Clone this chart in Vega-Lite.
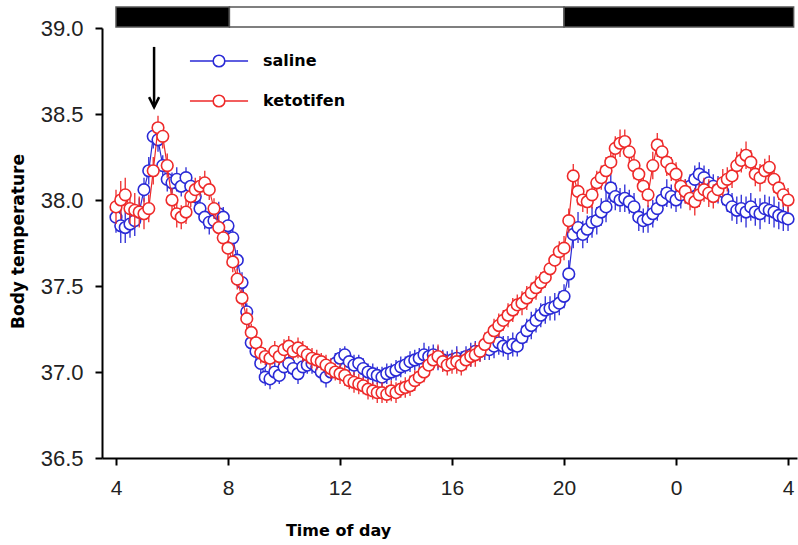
{
"$schema": "https://vega.github.io/schema/vega-lite/v6.json",
"width": 695, "height": 430,
"autosize": {"type": "none"},
"padding": {"left": 102, "top": 28, "right": 1, "bottom": 87},
"background": "white",
"config": {"view": {"stroke": null}},
"datasets": {
"saline": [
{"t":4,"v":37.90,"e":0.09},{"t":4.17,"v":37.85,"e":0.10},{"t":4.33,"v":37.84,"e":0.09},{"t":4.5,"v":37.86,"e":0.08},{"t":4.67,"v":37.88,"e":0.09},{"t":4.83,"v":37.93,"e":0.08},
{"t":5,"v":38.06,"e":0.07},{"t":5.17,"v":38.17,"e":0.08},{"t":5.33,"v":38.37,"e":0.07},{"t":5.5,"v":38.35,"e":0.07},{"t":5.67,"v":38.20,"e":0.06},{"t":5.83,"v":38.12,"e":0.07},
{"t":6,"v":38.10,"e":0.06},{"t":6.17,"v":38.12,"e":0.07},{"t":6.33,"v":38.08,"e":0.06},{"t":6.5,"v":38.13,"e":0.06},{"t":6.67,"v":38.08,"e":0.07},{"t":6.83,"v":38.02,"e":0.07},
{"t":7,"v":37.95,"e":0.06},{"t":7.17,"v":37.90,"e":0.07},{"t":7.33,"v":37.87,"e":0.07},{"t":7.5,"v":37.88,"e":0.06},{"t":7.67,"v":37.92,"e":0.07},{"t":7.83,"v":37.90,"e":0.06},
{"t":8,"v":37.85,"e":0.07},{"t":8.17,"v":37.78,"e":0.06},{"t":8.33,"v":37.65,"e":0.06},{"t":8.5,"v":37.52,"e":0.06},{"t":8.67,"v":37.35,"e":0.05},{"t":8.83,"v":37.17,"e":0.05},
{"t":9,"v":37.12,"e":0.06},{"t":9.17,"v":37.05,"e":0.06},{"t":9.33,"v":36.97,"e":0.05},{"t":9.5,"v":36.96,"e":0.06},{"t":9.67,"v":37.00,"e":0.06},{"t":9.83,"v":36.98,"e":0.05},
{"t":10,"v":37.03,"e":0.06},{"t":10.17,"v":37.05,"e":0.06},{"t":10.33,"v":37.02,"e":0.05},{"t":10.5,"v":36.99,"e":0.06},{"t":10.67,"v":37.03,"e":0.06},{"t":10.83,"v":37.04,"e":0.05},
{"t":11,"v":37.05,"e":0.06},{"t":11.17,"v":37.03,"e":0.05},{"t":11.33,"v":37.00,"e":0.06},{"t":11.5,"v":36.97,"e":0.06},{"t":11.67,"v":37.00,"e":0.05},{"t":11.83,"v":37.05,"e":0.06},
{"t":12,"v":37.08,"e":0.06},{"t":12.17,"v":37.10,"e":0.05},{"t":12.33,"v":37.06,"e":0.06},{"t":12.5,"v":37.04,"e":0.06},{"t":12.67,"v":37.05,"e":0.05},{"t":12.83,"v":37.02,"e":0.06},
{"t":13,"v":37.00,"e":0.05},{"t":13.17,"v":36.99,"e":0.06},{"t":13.33,"v":36.98,"e":0.05},{"t":13.5,"v":36.97,"e":0.06},{"t":13.67,"v":36.99,"e":0.06},{"t":13.83,"v":37.00,"e":0.05},
{"t":14,"v":37.01,"e":0.06},{"t":14.17,"v":37.03,"e":0.06},{"t":14.33,"v":37.04,"e":0.05},{"t":14.5,"v":37.06,"e":0.06},{"t":14.67,"v":37.07,"e":0.06},{"t":14.83,"v":37.08,"e":0.06},
{"t":15,"v":37.10,"e":0.07},{"t":15.17,"v":37.09,"e":0.06},{"t":15.33,"v":37.10,"e":0.06},{"t":15.5,"v":37.08,"e":0.07},{"t":15.67,"v":37.07,"e":0.06},{"t":15.83,"v":37.06,"e":0.06},
{"t":16,"v":37.07,"e":0.06},{"t":16.17,"v":37.08,"e":0.07},{"t":16.33,"v":37.06,"e":0.06},{"t":16.5,"v":37.09,"e":0.06},{"t":16.67,"v":37.10,"e":0.07},{"t":16.83,"v":37.12,"e":0.06},
{"t":17,"v":37.12,"e":0.06},{"t":17.17,"v":37.14,"e":0.07},{"t":17.33,"v":37.13,"e":0.06},{"t":17.5,"v":37.15,"e":0.07},{"t":17.67,"v":37.17,"e":0.07},{"t":17.83,"v":37.15,"e":0.06},
{"t":18,"v":37.14,"e":0.07},{"t":18.17,"v":37.16,"e":0.07},{"t":18.33,"v":37.15,"e":0.06},{"t":18.5,"v":37.20,"e":0.07},{"t":18.67,"v":37.24,"e":0.07},{"t":18.83,"v":37.27,"e":0.08},
{"t":19,"v":37.30,"e":0.07},{"t":19.17,"v":37.33,"e":0.07},{"t":19.33,"v":37.36,"e":0.08},{"t":19.5,"v":37.37,"e":0.07},{"t":19.67,"v":37.38,"e":0.08},{"t":19.83,"v":37.40,"e":0.07},
{"t":20,"v":37.44,"e":0.07},{"t":20.17,"v":37.57,"e":0.08},{"t":20.33,"v":37.80,"e":0.08},{"t":20.5,"v":37.84,"e":0.09},{"t":20.67,"v":37.80,"e":0.08},{"t":20.83,"v":37.83,"e":0.08},
{"t":21,"v":37.87,"e":0.09},{"t":21.17,"v":37.88,"e":0.08},{"t":21.33,"v":37.93,"e":0.08},{"t":21.5,"v":37.96,"e":0.09},{"t":21.67,"v":38.07,"e":0.08},{"t":21.83,"v":38.02,"e":0.08},
{"t":22,"v":38.00,"e":0.07},{"t":22.17,"v":38.01,"e":0.08},{"t":22.33,"v":37.99,"e":0.07},{"t":22.5,"v":37.96,"e":0.08},{"t":22.67,"v":37.90,"e":0.08},{"t":22.83,"v":37.88,"e":0.07},
{"t":23,"v":37.89,"e":0.08},{"t":23.17,"v":37.92,"e":0.08},{"t":23.33,"v":37.95,"e":0.07},{"t":23.5,"v":38.00,"e":0.07},{"t":23.67,"v":38.04,"e":0.08},{"t":23.83,"v":38.02,"e":0.07},
{"t":24,"v":38.00,"e":0.07},{"t":24.17,"v":38.03,"e":0.08},{"t":24.33,"v":38.05,"e":0.07},{"t":24.5,"v":38.08,"e":0.07},{"t":24.67,"v":38.12,"e":0.08},{"t":24.83,"v":38.15,"e":0.07},
{"t":25,"v":38.13,"e":0.07},{"t":25.17,"v":38.10,"e":0.08},{"t":25.33,"v":38.08,"e":0.07},{"t":25.5,"v":38.06,"e":0.08},{"t":25.67,"v":38.05,"e":0.08},{"t":25.83,"v":38.00,"e":0.07},
{"t":26,"v":37.96,"e":0.08},{"t":26.17,"v":37.94,"e":0.08},{"t":26.33,"v":37.95,"e":0.08},{"t":26.5,"v":37.93,"e":0.09},{"t":26.67,"v":37.96,"e":0.08},{"t":26.83,"v":37.93,"e":0.08},
{"t":27,"v":37.92,"e":0.09},{"t":27.17,"v":37.95,"e":0.08},{"t":27.33,"v":37.94,"e":0.08},{"t":27.5,"v":37.93,"e":0.09},{"t":27.67,"v":37.91,"e":0.08},{"t":27.83,"v":37.90,"e":0.08},
{"t":28,"v":37.89,"e":0.07}
],
"ketotifen": [
{"t":4,"v":37.96,"e":0.10},{"t":4.17,"v":38.00,"e":0.11},{"t":4.33,"v":38.03,"e":0.10},{"t":4.5,"v":37.95,"e":0.09},{"t":4.67,"v":37.94,"e":0.10},{"t":4.83,"v":37.93,"e":0.09},
{"t":5,"v":37.92,"e":0.09},{"t":5.17,"v":37.95,"e":0.08},{"t":5.33,"v":38.17,"e":0.08},{"t":5.5,"v":38.42,"e":0.07},{"t":5.67,"v":38.37,"e":0.07},{"t":5.83,"v":38.20,"e":0.07},
{"t":6,"v":38.00,"e":0.07},{"t":6.17,"v":37.92,"e":0.08},{"t":6.33,"v":37.90,"e":0.07},{"t":6.5,"v":37.93,"e":0.07},{"t":6.67,"v":38.02,"e":0.06},{"t":6.83,"v":38.06,"e":0.07},
{"t":7,"v":38.08,"e":0.06},{"t":7.17,"v":38.10,"e":0.07},{"t":7.33,"v":38.06,"e":0.06},{"t":7.5,"v":37.95,"e":0.06},{"t":7.67,"v":37.84,"e":0.07},{"t":7.83,"v":37.78,"e":0.06},
{"t":8,"v":37.72,"e":0.06},{"t":8.17,"v":37.64,"e":0.06},{"t":8.33,"v":37.54,"e":0.06},{"t":8.5,"v":37.43,"e":0.05},{"t":8.67,"v":37.31,"e":0.06},{"t":8.83,"v":37.23,"e":0.05},
{"t":9,"v":37.17,"e":0.06},{"t":9.17,"v":37.11,"e":0.06},{"t":9.33,"v":37.09,"e":0.05},{"t":9.5,"v":37.08,"e":0.06},{"t":9.67,"v":37.12,"e":0.06},{"t":9.83,"v":37.09,"e":0.05},
{"t":10,"v":37.13,"e":0.06},{"t":10.17,"v":37.15,"e":0.06},{"t":10.33,"v":37.12,"e":0.05},{"t":10.5,"v":37.14,"e":0.06},{"t":10.67,"v":37.12,"e":0.06},{"t":10.83,"v":37.10,"e":0.05},
{"t":11,"v":37.08,"e":0.06},{"t":11.17,"v":37.07,"e":0.06},{"t":11.33,"v":37.06,"e":0.05},{"t":11.5,"v":37.04,"e":0.06},{"t":11.67,"v":37.02,"e":0.06},{"t":11.83,"v":37.00,"e":0.05},
{"t":12,"v":36.99,"e":0.06},{"t":12.17,"v":36.98,"e":0.06},{"t":12.33,"v":36.95,"e":0.05},{"t":12.5,"v":36.94,"e":0.06},{"t":12.67,"v":36.93,"e":0.06},{"t":12.83,"v":36.92,"e":0.05},
{"t":13,"v":36.90,"e":0.06},{"t":13.17,"v":36.89,"e":0.05},{"t":13.33,"v":36.88,"e":0.06},{"t":13.5,"v":36.88,"e":0.06},{"t":13.67,"v":36.87,"e":0.05},{"t":13.83,"v":36.89,"e":0.06},
{"t":14,"v":36.88,"e":0.06},{"t":14.17,"v":36.90,"e":0.05},{"t":14.33,"v":36.91,"e":0.06},{"t":14.5,"v":36.92,"e":0.06},{"t":14.67,"v":36.95,"e":0.06},{"t":14.83,"v":36.97,"e":0.05},
{"t":15,"v":37.00,"e":0.06},{"t":15.17,"v":37.04,"e":0.06},{"t":15.33,"v":37.07,"e":0.06},{"t":15.5,"v":37.09,"e":0.07},{"t":15.67,"v":37.06,"e":0.06},{"t":15.83,"v":37.04,"e":0.06},
{"t":16,"v":37.05,"e":0.06},{"t":16.17,"v":37.06,"e":0.07},{"t":16.33,"v":37.04,"e":0.06},{"t":16.5,"v":37.07,"e":0.06},{"t":16.67,"v":37.09,"e":0.06},{"t":16.83,"v":37.10,"e":0.07},
{"t":17,"v":37.12,"e":0.06},{"t":17.17,"v":37.16,"e":0.07},{"t":17.33,"v":37.20,"e":0.06},{"t":17.5,"v":37.24,"e":0.07},{"t":17.67,"v":37.27,"e":0.07},{"t":17.83,"v":37.30,"e":0.06},
{"t":18,"v":37.33,"e":0.07},{"t":18.17,"v":37.36,"e":0.07},{"t":18.33,"v":37.39,"e":0.06},{"t":18.5,"v":37.40,"e":0.07},{"t":18.67,"v":37.43,"e":0.07},{"t":18.83,"v":37.46,"e":0.06},
{"t":19,"v":37.49,"e":0.07},{"t":19.17,"v":37.52,"e":0.06},{"t":19.33,"v":37.55,"e":0.06},{"t":19.5,"v":37.60,"e":0.07},{"t":19.67,"v":37.65,"e":0.06},{"t":19.83,"v":37.70,"e":0.06},
{"t":20,"v":37.72,"e":0.07},{"t":20.17,"v":37.88,"e":0.07},{"t":20.33,"v":38.14,"e":0.07},{"t":20.5,"v":38.05,"e":0.08},{"t":20.67,"v":38.00,"e":0.07},{"t":20.83,"v":37.99,"e":0.07},
{"t":21,"v":38.03,"e":0.08},{"t":21.17,"v":38.10,"e":0.07},{"t":21.33,"v":38.13,"e":0.07},{"t":21.5,"v":38.17,"e":0.08},{"t":21.67,"v":38.22,"e":0.07},{"t":21.83,"v":38.30,"e":0.07},
{"t":22,"v":38.33,"e":0.08},{"t":22.17,"v":38.34,"e":0.07},{"t":22.33,"v":38.28,"e":0.07},{"t":22.5,"v":38.20,"e":0.08},{"t":22.67,"v":38.15,"e":0.07},{"t":22.83,"v":38.08,"e":0.08},
{"t":23,"v":38.03,"e":0.07},{"t":23.17,"v":38.20,"e":0.08},{"t":23.33,"v":38.32,"e":0.07},{"t":23.5,"v":38.28,"e":0.07},{"t":23.67,"v":38.22,"e":0.08},{"t":23.83,"v":38.18,"e":0.07},
{"t":24,"v":38.15,"e":0.07},{"t":24.17,"v":38.08,"e":0.08},{"t":24.33,"v":38.05,"e":0.07},{"t":24.5,"v":38.01,"e":0.07},{"t":24.67,"v":37.99,"e":0.08},{"t":24.83,"v":38.03,"e":0.07},
{"t":25,"v":38.06,"e":0.07},{"t":25.17,"v":38.04,"e":0.08},{"t":25.33,"v":38.02,"e":0.07},{"t":25.5,"v":38.06,"e":0.07},{"t":25.67,"v":38.10,"e":0.08},{"t":25.83,"v":38.12,"e":0.07},
{"t":26,"v":38.14,"e":0.07},{"t":26.17,"v":38.20,"e":0.08},{"t":26.33,"v":38.23,"e":0.07},{"t":26.5,"v":38.26,"e":0.08},{"t":26.67,"v":38.22,"e":0.07},{"t":26.83,"v":38.15,"e":0.07},
{"t":27,"v":38.13,"e":0.08},{"t":27.17,"v":38.17,"e":0.07},{"t":27.33,"v":38.19,"e":0.07},{"t":27.5,"v":38.12,"e":0.08},{"t":27.67,"v":38.07,"e":0.07},{"t":27.83,"v":38.03,"e":0.07},
{"t":28,"v":38.00,"e":0.07}
]
},
"layer": [
{
"data": {"values": [{"start": 4.0, "end": 8.05, "phase": "dark"}, {"start": 8.05, "end": 20.0, "phase": "light"}, {"start": 20.0, "end": 28.2, "phase": "dark"}]},
"mark": {"type": "rect", "stroke": "#555555", "strokeWidth": 1.5},
"encoding": {
"x": {"field": "start", "type": "quantitative", "scale": {"domain": [3.5, 28.32], "nice": false, "zero": false},
"axis": {"title": "Time of day", "values": [4, 8, 12, 16, 20, 24, 28], "labelExpr": "datum.value >= 24 ? '' + (datum.value - 24) : '' + datum.value", "grid": false, "domainColor": "black", "domainWidth": 2, "tickColor": "black", "tickWidth": 2, "tickSize": 7, "labelFont": "Liberation Sans", "labelFontSize": 21, "labelColor": "#222222", "labelPadding": 12, "titleFont": "DejaVu Sans", "titleFontWeight": "bold", "titleFontSize": 16, "titleColor": "black", "titleX": 236, "titleY": 72, "titleAlign": "center", "titleBaseline": "middle", "titleAnchor": null}},
"x2": {"field": "end"},
"y": {"datum": 39.006, "type": "quantitative", "scale": {"domain": [36.5, 39.0], "nice": false, "zero": false},
"axis": {"title": "Body temperature", "values": [36.5, 37.0, 37.5, 38.0, 38.5, 39.0], "format": ".1f", "grid": false, "domainColor": "black", "domainWidth": 2, "tickColor": "black", "tickWidth": 2, "tickSize": 7, "labelFont": "Liberation Sans", "labelFontSize": 22, "labelColor": "#222222", "labelPadding": 12, "titleFont": "DejaVu Sans", "titleFontWeight": "bold", "titleFontSize": 17, "titleColor": "black", "titleAngle": -90, "titleX": -84, "titleY": 213, "titleAlign": "center", "titleBaseline": "middle"}},
"y2": {"datum": 39.122},
"fill": {"field": "phase", "type": "nominal", "scale": {"domain": ["dark", "light"], "range": ["#000000", "#ffffff"]}, "legend": null}
}
},
{
"data": {"values": [{"t": 5.36, "top": 38.89, "tip": 38.54}]},
"mark": {"type": "rule", "color": "black", "strokeWidth": 2.5},
"encoding": {"x": {"field": "t", "type": "quantitative"}, "y": {"field": "top", "type": "quantitative"}, "y2": {"field": "tip"}}
},
{
"data": {"values": [{"t": 5.36, "top": 38.89, "tip": 38.54}]},
"mark": {"type": "point", "shape": "M-1,-2L0,0L1,-2", "size": 100, "filled": false, "color": "black", "strokeWidth": 2.5, "opacity": 1},
"encoding": {"x": {"field": "t", "type": "quantitative"}, "y": {"field": "tip", "type": "quantitative"}}
},
{
"data": {"name": "saline"},
"mark": {"type": "errorbar", "color": "#2a2ad6", "thickness": 1.3},
"encoding": {"x": {"field": "t", "type": "quantitative"}, "y": {"field": "v", "type": "quantitative", "title": "Body temperature"}, "yError": {"field": "e"}}
},
{
"data": {"name": "saline"},
"mark": {"type": "line", "color": "#2a2ad6", "strokeWidth": 1.2},
"encoding": {"x": {"field": "t", "type": "quantitative"}, "y": {"field": "v", "type": "quantitative", "title": "Body temperature"}}
},
{
"data": {"name": "saline"},
"mark": {"type": "point", "shape": "circle", "size": 135, "filled": false, "fill": "white", "fillOpacity": 1, "strokeWidth": 1.6, "opacity": 1},
"encoding": {"x": {"field": "t", "type": "quantitative"}, "y": {"field": "v", "type": "quantitative", "title": "Body temperature"},
"color": {"datum": "saline", "type": "nominal", "scale": {"domain": ["saline", "ketotifen"], "range": ["#2a2ad6", "#ee2a2a"]},
"legend": {"title": null, "orient": "none", "legendX": 109, "legendY": 25, "padding": 0, "symbolType": "M-5,0L-1,0M1,0L5,0M1,0A1,1,0,1,1,-1,0A1,1,0,1,1,1,0Z", "symbolSize": 135, "symbolStrokeWidth": 1.6, "symbolFillColor": "white", "labelFont": "DejaVu Sans", "labelFontWeight": "bold", "labelFontSize": 16, "labelColor": "black", "labelOffset": 36, "rowPadding": 20}}}
},
{
"data": {"name": "ketotifen"},
"mark": {"type": "errorbar", "color": "#ee2a2a", "thickness": 1.3},
"encoding": {"x": {"field": "t", "type": "quantitative"}, "y": {"field": "v", "type": "quantitative", "title": "Body temperature"}, "yError": {"field": "e"}}
},
{
"data": {"name": "ketotifen"},
"mark": {"type": "line", "color": "#ee2a2a", "strokeWidth": 1.2},
"encoding": {"x": {"field": "t", "type": "quantitative"}, "y": {"field": "v", "type": "quantitative", "title": "Body temperature"}}
},
{
"data": {"name": "ketotifen"},
"mark": {"type": "point", "shape": "circle", "size": 135, "filled": false, "fill": "white", "fillOpacity": 1, "strokeWidth": 1.6, "opacity": 1},
"encoding": {"x": {"field": "t", "type": "quantitative"}, "y": {"field": "v", "type": "quantitative", "title": "Body temperature"},
"color": {"datum": "ketotifen", "type": "nominal"}}
}
]
}
